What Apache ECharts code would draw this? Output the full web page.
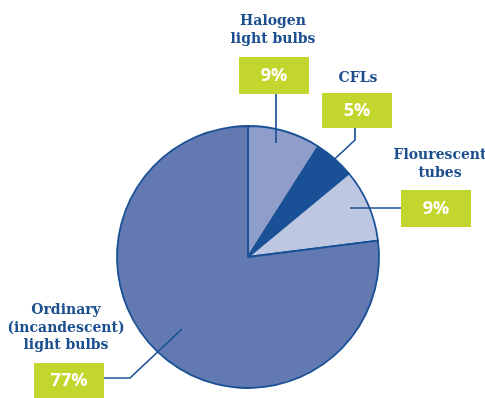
<!DOCTYPE html>
<html>
<head>
<meta charset="utf-8">
<script src="https://cdn.jsdelivr.net/npm/echarts@6/dist/echarts.min.js"></script>
<style>
  html, body { margin: 0; padding: 0; background: #ffffff; }
  #chart { width: 485px; height: 398px; }
</style>
</head>
<body>
<div id="chart"></div>
<script>
// Share of lighting by bulb type (%)
const categories = ['Halogen\nlight bulbs', 'CFLs', 'Flourescent\ntubes', 'Ordinary\n(incandescent)\nlight bulbs'];
const shares = [9, 5, 9, 77];
const sliceColors = ['#8e9dca', '#1a5196', '#bec7e2', '#6279b2'];

const NAVY = '#1a5196';
const GREEN = '#c3d62e';
const TITLE_FONT = 'bold 14px "DejaVu Serif", serif';
const VALUE_FONT = 'bold 18px "Open Sans", sans-serif';

// Callout placement for each slice: title anchor, value box, leader polyline
const callouts = [
  { title: [273, 13], box: [239, 57, 70, 37], line: [[276, 143], [276, 94]] },
  { title: [358, 70], box: [322, 93, 70, 35], line: [[324, 169], [355, 140], [355, 128]] },
  { title: [440, 147], box: [401, 190, 70, 37], line: [[350, 208], [401, 208]] },
  { title: [66, 302], box: [34, 363, 70, 36], line: [[182, 329], [130, 378], [104, 378]] }
];

const graphics = [];
callouts.forEach((c, i) => {
  graphics.push({
    type: 'polyline', z: 10,
    shape: { points: c.line },
    style: { stroke: NAVY, lineWidth: 1.7, fill: null }
  });
  graphics.push({
    type: 'rect', z: 10,
    shape: { x: c.box[0], y: c.box[1], width: c.box[2], height: c.box[3] },
    style: { fill: GREEN }
  });
  graphics.push({
    type: 'text', z: 11,
    x: c.box[0] + c.box[2] / 2, y: c.box[1] + c.box[3] / 2,
    style: { text: shares[i] + '%', font: VALUE_FONT, fill: '#ffffff', align: 'center', verticalAlign: 'middle' }
  });
  graphics.push({
    type: 'text', z: 11,
    x: c.title[0], y: c.title[1],
    style: { text: categories[i], font: TITLE_FONT, fill: '#1b4f8e', align: 'center', verticalAlign: 'top', lineHeight: 17.5 }
  });
});

const chart = echarts.init(document.getElementById('chart'), null, { renderer: 'canvas' });
chart.setOption({
  animation: false,
  backgroundColor: '#ffffff',
  series: [{
    type: 'pie',
    center: [248, 257],
    radius: 131,
    startAngle: 90,
    clockwise: true,
    label: { show: false },
    labelLine: { show: false },
    itemStyle: { borderColor: NAVY, borderWidth: 1.8 },
    emphasis: { disabled: true },
    data: shares.map((v, i) => ({ value: v, name: categories[i], itemStyle: { color: sliceColors[i] } }))
  }],
  graphic: graphics
});
</script>
</body>
</html>
